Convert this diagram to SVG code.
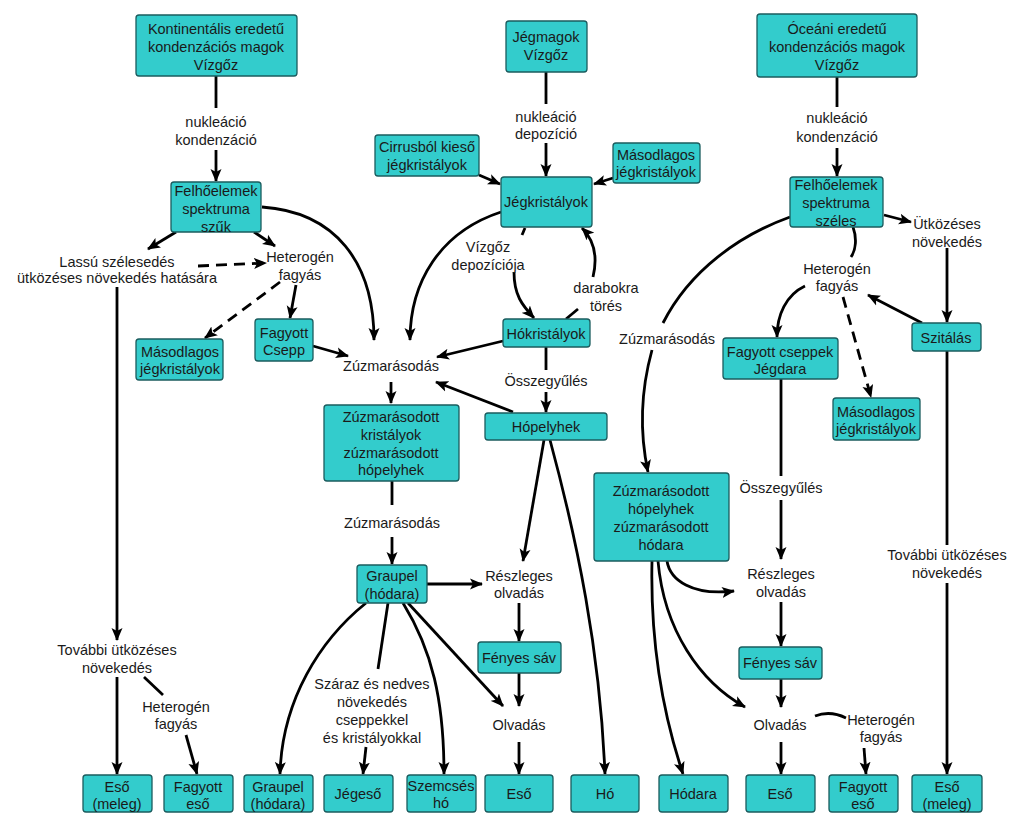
<svg xmlns="http://www.w3.org/2000/svg" width="1024" height="828" viewBox="0 0 1024 828">
<style>
.n rect{fill:#33cccc;stroke:#1b5c5e;stroke-width:1.3}
text{font-family:"Liberation Sans",Arial,sans-serif;font-size:14.5px;fill:#1a1a1a;text-anchor:middle}
.c path,.c line{fill:none;stroke:#000;stroke-width:2.8}
.a{marker-end:url(#ah)}
.d{stroke-dasharray:11,7}
</style>
<defs>
<marker id="ah" markerUnits="userSpaceOnUse" markerWidth="14" markerHeight="12" refX="12" refY="6" orient="auto">
<path d="M0,0.5 L13,6 L0,11.5 L3,6 z" fill="#000"/>
</marker>
</defs>
<rect width="1024" height="828" fill="#fff"/>

<g class="c">
<!-- left column -->
<line x1="216" y1="76" x2="216" y2="108"/>
<line class="a" x1="216" y1="150" x2="216" y2="181"/>
<line class="a" x1="176" y1="232" x2="148" y2="249"/>
<line class="a" x1="254" y1="232" x2="275" y2="246"/>
<line class="a d" x1="198" y1="266" x2="266" y2="263"/>
<path class="a" d="M262,207 C335,212 374,262 374,340"/>
<line class="a" x1="117" y1="287" x2="117" y2="640"/>
<line class="a d" x1="280" y1="282" x2="205" y2="338"/>
<line class="a" x1="296" y1="285" x2="290" y2="318"/>
<line class="a" x1="313" y1="346" x2="348" y2="356"/>
<line class="a" x1="117" y1="677" x2="117" y2="774"/>
<line x1="144" y1="677" x2="163" y2="695"/>
<line class="a" x1="186" y1="735" x2="197" y2="774"/>
<!-- middle -->
<line x1="546" y1="72" x2="546" y2="104"/>
<line class="a" x1="546" y1="143" x2="546" y2="176"/>
<line class="a" x1="479" y1="175" x2="500" y2="184"/>
<line class="a" x1="613" y1="178" x2="594" y2="184"/>
<path class="a" d="M501,212 C440,232 410,282 410,340"/>
<line x1="525" y1="228" x2="522" y2="235"/>
<path class="a" d="M514,272 C514,295 522,305 534,318"/>
<path class="a" d="M593,277 C598,256 594,240 582,228"/>
<line x1="578" y1="309" x2="566" y2="319"/>
<line class="a" x1="503" y1="341" x2="437" y2="357"/>
<line class="a" x1="391" y1="382" x2="391" y2="403"/>
<line class="a" x1="513" y1="412" x2="436" y2="382"/>
<line x1="546" y1="347" x2="546" y2="370"/>
<line class="a" x1="546" y1="392" x2="546" y2="412"/>
<line x1="392" y1="481" x2="392" y2="505"/>
<line class="a" x1="392" y1="537" x2="392" y2="564"/>
<line class="a" x1="427" y1="584" x2="482" y2="584"/>
<path class="a" d="M366,603 C320,640 282,700 280,774"/>
<line x1="388" y1="603" x2="378" y2="669"/>
<line class="a" x1="366" y1="747" x2="363" y2="774"/>
<path class="a" d="M403,603 C432,650 444,700 444,774"/>
<line class="a" x1="408" y1="603" x2="503" y2="706"/>
<line class="a" x1="519" y1="603" x2="519" y2="641"/>
<line class="a" x1="519" y1="673" x2="519" y2="706"/>
<line class="a" x1="519" y1="742" x2="519" y2="774"/>
<line class="a" x1="544" y1="440" x2="523" y2="561"/>
<path class="a" d="M550,440 C577,540 600,650 605,774"/>
<!-- right -->
<line x1="837" y1="77" x2="837" y2="107"/>
<line class="a" x1="837" y1="148" x2="837" y2="176"/>
<line class="a" x1="884" y1="215" x2="911" y2="222"/>
<path d="M853,227 C857,238 856,250 851,257"/>
<line class="a" x1="947" y1="248" x2="947" y2="322"/>
<line class="a" x1="922" y1="323" x2="868" y2="295"/>
<path class="a" d="M805,286 C786,295 777,315 777,337"/>
<line class="a d" x1="843" y1="297" x2="871" y2="397"/>
<path d="M790,217 C740,235 690,270 663,323"/>
<path class="a" d="M652,350 C641,390 639,430 648,472"/>
<line x1="781" y1="379" x2="781" y2="476"/>
<line class="a" x1="781" y1="500" x2="781" y2="559"/>
<line class="a" x1="781" y1="602" x2="781" y2="646"/>
<line class="a" x1="781" y1="679" x2="781" y2="707"/>
<line class="a" x1="781" y1="742" x2="781" y2="774"/>
<path d="M815,716 C828,711 838,714 846,718"/>
<line class="a" x1="864" y1="748" x2="866" y2="774"/>
<line x1="947" y1="351" x2="947" y2="545"/>
<line class="a" x1="947" y1="583" x2="947" y2="774"/>
<path class="a" d="M667,561 C670,580 692,596 734,591"/>
<path class="a" d="M658,561 C664,630 700,682 745,707"/>
<path class="a" d="M652,561 C650,650 665,720 683,774"/>
</g>

<!-- top nodes -->
<g id="kontinentalis" class="n"><rect x="136" y="15" width="161" height="61" rx="3"/><text x="216" y="34">Kontinentális eredetű</text><text x="216" y="52">kondenzációs magok</text><text x="216" y="70">Vízgőz</text></g>
<g id="jegmagok" class="n"><rect x="506" y="21" width="81" height="51" rx="3"/><text x="546" y="42">Jégmagok</text><text x="546" y="60">Vízgőz</text></g>
<g id="oceani" class="n"><rect x="757" y="14" width="160" height="63" rx="3"/><text x="837" y="34">Óceáni eredetű</text><text x="837" y="52">kondenzációs magok</text><text x="837" y="70">Vízgőz</text></g>
<g id="felho-szuk" class="n"><rect x="171" y="182" width="90" height="50" rx="3"/><text x="216" y="196">Felhőelemek</text><text x="216" y="214">spektruma</text><text x="216" y="232">szűk</text></g>
<g id="cirrus" class="n"><rect x="375" y="135" width="104" height="41" rx="3"/><text x="427" y="152">Cirrusból kieső</text><text x="427" y="170">jégkristályok</text></g>
<g id="masodlagos-top" class="n"><rect x="613" y="143" width="87" height="40" rx="3"/><text x="656" y="160">Másodlagos</text><text x="656" y="177">jégkristályok</text></g>
<g id="jegkristalyok" class="n"><rect x="501" y="177" width="91" height="50" rx="3"/><text x="546" y="207">Jégkristályok</text></g>
<g id="felho-szeles" class="n"><rect x="790" y="177" width="93" height="50" rx="3"/><text x="836" y="190">Felhőelemek</text><text x="836" y="208">spektruma</text><text x="836" y="226">széles</text></g>
<!-- middle nodes -->
<g id="masodlagos-left" class="n"><rect x="136" y="339" width="87" height="41" rx="3"/><text x="180" y="357">Másodlagos</text><text x="180" y="374">jégkristályok</text></g>
<g id="fagyott-csepp" class="n"><rect x="255" y="319" width="58" height="42" rx="3"/><text x="284" y="338">Fagyott</text><text x="284" y="355">Csepp</text></g>
<g id="hokristalyok" class="n"><rect x="503" y="319" width="87" height="28" rx="3"/><text x="546" y="339">Hókristályok</text></g>
<g id="zuzm-kristalyok" class="n"><rect x="324" y="405" width="135" height="76" rx="3"/><text x="391" y="422">Zúzmarásodott</text><text x="391" y="440">kristályok</text><text x="391" y="458">zúzmarásodott</text><text x="391" y="475">hópelyhek</text></g>
<g id="hopelyhek" class="n"><rect x="485" y="413" width="122" height="27" rx="3"/><text x="546" y="432">Hópelyhek</text></g>
<g id="fagyott-cseppek" class="n"><rect x="723" y="338" width="115" height="41" rx="3"/><text x="780" y="357">Fagyott cseppek</text><text x="780" y="374">Jégdara</text></g>
<g id="szitalas" class="n"><rect x="912" y="323" width="69" height="28" rx="3"/><text x="946" y="343">Szitálás</text></g>
<g id="masodlagos-right" class="n"><rect x="833" y="398" width="87" height="42" rx="3"/><text x="876" y="417">Másodlagos</text><text x="876" y="434">jégkristályok</text></g>
<g id="zuzm-hopelyhek" class="n"><rect x="594" y="473" width="135" height="88" rx="3"/><text x="661" y="496">Zúzmarásodott</text><text x="661" y="514">hópelyhek</text><text x="661" y="532">zúzmarásodott</text><text x="661" y="550">hódara</text></g>
<g id="graupel-mid" class="n"><rect x="357" y="565" width="70" height="38" rx="3"/><text x="392" y="581">Graupel</text><text x="392" y="599">(hódara)</text></g>
<g id="fenyes-mid" class="n"><rect x="478" y="642" width="83" height="31" rx="3"/><text x="519" y="663">Fényes sáv</text></g>
<g id="fenyes-right" class="n"><rect x="739" y="647" width="83" height="32" rx="3"/><text x="780" y="668">Fényes sáv</text></g>
<!-- bottom row -->
<g id="eso-meleg-l" class="n"><rect x="83" y="775" width="69" height="37" rx="3"/><text x="117" y="792">Eső</text><text x="117" y="809">(meleg)</text></g>
<g id="fagyott-eso-l" class="n"><rect x="164" y="775" width="69" height="37" rx="3"/><text x="198" y="792">Fagyott</text><text x="198" y="809">eső</text></g>
<g id="graupel-b" class="n"><rect x="244" y="775" width="69" height="37" rx="3"/><text x="278" y="792">Graupel</text><text x="278" y="809">(hódara)</text></g>
<g id="jegeso" class="n"><rect x="324" y="775" width="69" height="37" rx="3"/><text x="358" y="799">Jégeső</text></g>
<g id="szemcses" class="n"><rect x="407" y="775" width="69" height="37" rx="3"/><text x="441" y="791">Szemcsés</text><text x="441" y="808">hó</text></g>
<g id="eso-mid" class="n"><rect x="485" y="775" width="68" height="37" rx="3"/><text x="519" y="799">Eső</text></g>
<g id="ho" class="n"><rect x="571" y="775" width="68" height="37" rx="3"/><text x="605" y="799">Hó</text></g>
<g id="hodara" class="n"><rect x="659" y="775" width="69" height="37" rx="3"/><text x="693" y="799">Hódara</text></g>
<g id="eso-right" class="n"><rect x="746" y="775" width="69" height="37" rx="3"/><text x="780" y="799">Eső</text></g>
<g id="fagyott-eso-r" class="n"><rect x="829" y="775" width="69" height="37" rx="3"/><text x="863" y="792">Fagyott</text><text x="863" y="809">eső</text></g>
<g id="eso-meleg-r" class="n"><rect x="912" y="775" width="70" height="37" rx="3"/><text x="947" y="792">Eső</text><text x="947" y="809">(meleg)</text></g>

<!-- labels -->
<g id="labels">
<text x="216" y="127">nukleáció</text><text x="216" y="145">kondenzáció</text>
<text x="546" y="122">nukleáció</text><text x="546" y="139">depozíció</text>
<text x="837" y="123">nukleáció</text><text x="837" y="142">kondenzáció</text>
<text x="117" y="267">Lassú szélesedés</text><text x="117" y="283">ütközéses növekedés hatására</text>
<text x="300" y="262">Heterogén</text><text x="300" y="280">fagyás</text>
<text x="488" y="252">Vízgőz</text><text x="488" y="270">depozíciója</text>
<text x="606" y="293">darabokra</text><text x="606" y="311">törés</text>
<text x="391" y="371">Zúzmarásodás</text>
<text x="546" y="386">Összegyűlés</text>
<text x="392" y="528">Zúzmarásodás</text>
<text x="667" y="344">Zúzmarásodás</text>
<text x="947" y="229">Ütközéses</text><text x="947" y="247">növekedés</text>
<text x="837" y="274">Heterogén</text><text x="837" y="291">fagyás</text>
<text x="781" y="493">Összegyűlés</text>
<text x="947" y="560">További ütközéses</text><text x="947" y="578">növekedés</text>
<text x="117" y="655">További ütközéses</text><text x="117" y="673">növekedés</text>
<text x="176" y="712">Heterogén</text><text x="176" y="729">fagyás</text>
<text x="519" y="581">Részleges</text><text x="519" y="598">olvadás</text>
<text x="372" y="689">Száraz és nedves</text><text x="372" y="707">növekedés</text><text x="372" y="725">cseppekkel</text><text x="372" y="743">és kristályokkal</text>
<text x="519" y="730">Olvadás</text>
<text x="781" y="579">Részleges</text><text x="781" y="597">olvadás</text>
<text x="780" y="730">Olvadás</text>
<text x="881" y="725">Heterogén</text><text x="881" y="742">fagyás</text>
</g>
</svg>
